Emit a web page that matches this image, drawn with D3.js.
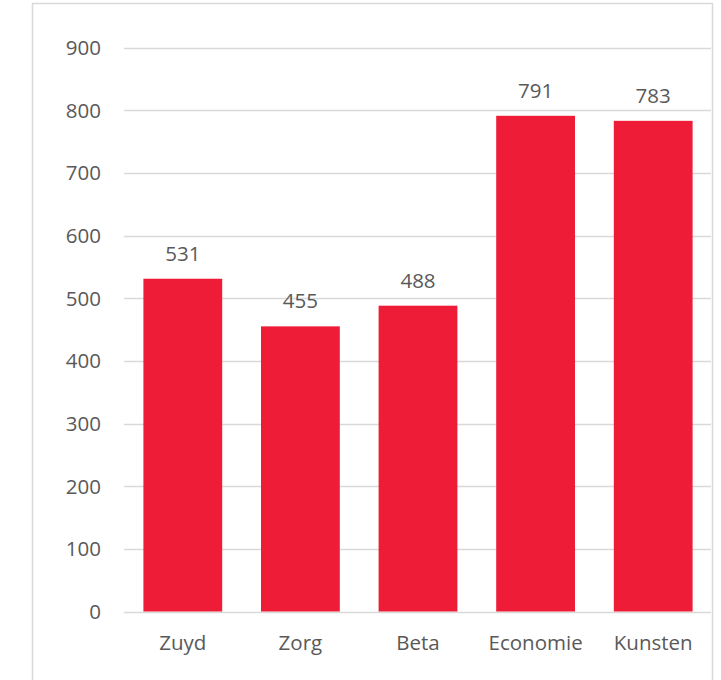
<!DOCTYPE html>
<html>
<head>
<meta charset="utf-8">
<script src="https://cdn.jsdelivr.net/npm/d3@7"></script>
<style>
  body { margin: 0; background: #fff; }
  text { font-family: "Open Sans", "Noto Sans", sans-serif; fill: #595959; }
</style>
</head>
<body>
<script>
var categories = ["Zuyd", "Zorg", "Beta", "Economie", "Kunsten"];
var values = [531, 455, 488, 791, 783];
var yTicks = [0, 100, 200, 300, 400, 500, 600, 700, 800, 900];

var w = 721;
var h = 680;

var svg = d3.select("body")
      .append("svg")
      .attr("width", w)
      .attr("height", h);

// chart frame
svg.append("rect")
   .attr("x", 32.5)
   .attr("y", 3.5)
   .attr("width", 680)
   .attr("height", 700)
   .attr("fill", "none")
   .attr("stroke", "#d9d9d9")
   .attr("stroke-width", 1.5);

var x = d3.scaleBand()
      .domain(categories)
      .range([124, 712])
      .paddingInner(0.33)
      .paddingOuter(0.165);

var y = d3.scaleLinear()
      .domain([0, 900])
      .range([611.5, 47.5]);

// gridlines
svg.selectAll("line.grid")
   .data(yTicks)
   .enter()
   .append("line")
   .attr("class", "grid")
   .attr("x1", 124)
   .attr("x2", 711)
   .attr("y1", d => Math.round(y(d)) + 0.5)
   .attr("y2", d => Math.round(y(d)) + 0.5)
   .attr("stroke", "#d9d9d9")
   .attr("stroke-width", 1.5);

// y tick labels
svg.selectAll("text.ytick")
   .data(yTicks)
   .enter()
   .append("text")
   .attr("class", "ytick")
   .attr("x", 101)
   .attr("y", d => y(d))
   .attr("dy", "0.36em")
   .attr("text-anchor", "end")
   .attr("font-size", 20.5)
   .text(d => d);

// bars
svg.selectAll("rect.bar")
   .data(values)
   .enter()
   .append("rect")
   .attr("class", "bar")
   .attr("x", (d, i) => x(categories[i]))
   .attr("width", x.bandwidth())
   .attr("y", d => y(d))
   .attr("height", d => y(0) - y(d))
   .attr("fill", "#ee1c37");

// value labels
svg.selectAll("text.val")
   .data(values)
   .enter()
   .append("text")
   .attr("class", "val")
   .attr("x", (d, i) => x(categories[i]) + x.bandwidth() / 2)
   .attr("y", d => y(d) - 18)
   .attr("text-anchor", "middle")
   .attr("font-size", 20.5)
   .text(d => d);

// category labels
svg.selectAll("text.cat")
   .data(categories)
   .enter()
   .append("text")
   .attr("class", "cat")
   .attr("x", d => x(d) + x.bandwidth() / 2)
   .attr("y", 650)
   .attr("text-anchor", "middle")
   .attr("font-size", 20.5)
   .text(d => d);
</script>
</body>
</html>
